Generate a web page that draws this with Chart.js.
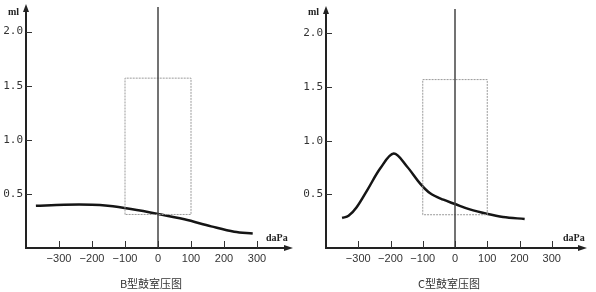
<!DOCTYPE html>
<html>
<head>
<meta charset="utf-8">
<script src="https://cdn.jsdelivr.net/npm/chart.js@4.4.0/dist/chart.umd.min.js"></script>
<style>
  body { margin: 0; background: #fff; }
  #wrap { position: relative; width: 596px; height: 292px; }
  .pane { position: absolute; top: 0; width: 298px; height: 292px; }
  .unit { position: absolute; font: bold 10px "Liberation Serif", serif; color: #222; white-space: nowrap; }
  .cap { position: absolute; top: 275px; width: 120px; text-align: center; font: 11px "Noto Sans CJK SC", sans-serif; color: #333; }
</style>
</head>
<body>
<div id="wrap">
  <div class="pane" style="left:0"><canvas id="chartB" width="298" height="292"></canvas></div>
  <div class="pane" style="left:298px"><canvas id="chartC" width="298" height="292"></canvas></div>
  <div class="unit" style="left:8px;top:6px">ml</div>
  <div class="unit" style="left:266px;top:232px">daPa</div>
  <div class="unit" style="left:308px;top:6px">ml</div>
  <div class="unit" style="left:563px;top:232px">daPa</div>
  <div class="cap" style="left:91px">B型鼓室压图</div>
  <div class="cap" style="left:389px">C型鼓室压图</div>
</div>
<script>
// tick labels
var xTicks = [-300, -200, -100, 0, 100, 200, 300];
var yTicks = [0.5, 1.0, 1.5, 2.0];

// B type curve (pressure daPa / volume ml)
var bPressure = [-370, -284, -200, -152, -82, 0, 80, 161, 231, 287];
var bVolume   = [0.39, 0.40, 0.40, 0.39, 0.36, 0.315, 0.265, 0.20, 0.15, 0.135];

// C type curve
var cPressure = [-350, -330, -305, -272, -231, -190, -149, -108, -77, -36, 0, 46, 98, 149, 216];
var cVolume   = [0.28, 0.30, 0.38, 0.54, 0.745, 0.88, 0.76, 0.60, 0.51, 0.45, 0.41, 0.36, 0.32, 0.29, 0.27];

// normal range box
var boxPressure = [-100, -100, 100, 100, -100];
var boxVolume   = [0.31, 1.57, 1.57, 0.31, 0.31];

function toPoints(xs, ys) {
    var pts = [];
    for (var i in xs) {
        pts.push({ x: xs[i], y: ys[i] });
    }
    return pts;
}

// axes arrows, inward tick marks and the zero line
var axisDecor = {
    id: 'axisDecor',
    afterDatasetsDraw: function(chart) {
        var ctx = chart.ctx;
        var a = chart.chartArea;
        var xs = chart.scales.x, ys = chart.scales.y;
        ctx.save();
        // zero pressure line
        var x0 = xs.getPixelForValue(0);
        ctx.strokeStyle = '#444';
        ctx.lineWidth = 1.5;
        ctx.beginPath();
        ctx.moveTo(x0, a.top - 3);
        ctx.lineTo(x0, a.bottom);
        ctx.stroke();
        // axes
        ctx.strokeStyle = '#222';
        ctx.lineWidth = 2;
        ctx.beginPath();
        ctx.moveTo(a.left, a.top - 2);
        ctx.lineTo(a.left, a.bottom);
        ctx.lineTo(a.right, a.bottom);
        ctx.stroke();
        ctx.fillStyle = '#222';
        ctx.beginPath();
        ctx.moveTo(a.left, a.top - 6);
        ctx.lineTo(a.left - 3, a.top + 2);
        ctx.lineTo(a.left + 3, a.top + 2);
        ctx.closePath();
        ctx.fill();
        ctx.beginPath();
        ctx.moveTo(a.right + 3, a.bottom);
        ctx.lineTo(a.right - 6, a.bottom - 3);
        ctx.lineTo(a.right - 6, a.bottom + 3);
        ctx.closePath();
        ctx.fill();
        // tick marks pointing inward
        ctx.strokeStyle = '#333';
        ctx.lineWidth = 1;
        xTicks.forEach(function(v) {
            var px = Math.round(xs.getPixelForValue(v)) + 0.5;
            ctx.beginPath();
            ctx.moveTo(px, a.bottom);
            ctx.lineTo(px, a.bottom - 7);
            ctx.stroke();
        });
        yTicks.forEach(function(v) {
            var py = Math.round(ys.getPixelForValue(v)) + 0.5;
            ctx.beginPath();
            ctx.moveTo(a.left, py);
            ctx.lineTo(a.left + 6, py);
            ctx.stroke();
        });
        ctx.restore();
    }
};

function makeChart(canvasId, xs, ys, pad) {
    var config = {
        type: 'scatter',
        data: {
            datasets: [
                {
                    data: toPoints(boxPressure, boxVolume),
                    showLine: true,
                    borderColor: '#9a9a9a',
                    borderWidth: 1,
                    borderDash: [2, 1],
                    pointRadius: 0,
                    tension: 0
                },
                {
                    data: toPoints(xs, ys),
                    showLine: true,
                    borderColor: '#151515',
                    borderWidth: 2.5,
                    pointRadius: 0,
                    tension: 0.35
                }
            ]
        },
        options: {
            responsive: false,
            animation: false,
            layout: { padding: pad },
            plugins: { legend: { display: false }, tooltip: { enabled: false } },
            scales: {
                x: {
                    type: 'linear',
                    min: -400,
                    max: 400,
                    grid: { display: false, drawTicks: false },
                    border: { display: false },
                    afterFit: function(scale) { scale.height = 44; },
                    ticks: {
                        stepSize: 100,
                        padding: 4,
                        maxRotation: 0,
                        autoSkip: false,
                        color: '#333',
                        font: { family: 'Liberation Sans', size: 11 },
                        callback: function(v) {
                            if (xTicks.indexOf(v) < 0) return '';
                            return v < 0 ? '\u2212' + Math.abs(v) : String(v);
                        }
                    }
                },
                y: {
                    min: 0,
                    max: 2.2,
                    grid: { display: false, drawTicks: false },
                    border: { display: false },
                    afterFit: function(scale) { scale.width = pad.yw; },
                    ticks: {
                        stepSize: 0.5,
                        padding: 3,
                        autoSkip: false,
                        color: '#333',
                        font: { family: 'DejaVu Sans Mono', size: 11 },
                        callback: function(v) {
                            for (var i in yTicks) {
                                if (Math.abs(yTicks[i] - v) < 1e-6) return yTicks[i].toFixed(1);
                            }
                            return '';
                        }
                    }
                }
            }
        },
        plugins: [axisDecor]
    };
    return new Chart(document.getElementById(canvasId), config);
}

makeChart('chartB', bPressure, bVolume, { top: 10, right: 8, left: 0, bottom: 0, yw: 26 });
makeChart('chartC', cPressure, cVolume, { top: 12, right: 12, left: 0, bottom: 0, yw: 28 });
</script>
</body>
</html>
